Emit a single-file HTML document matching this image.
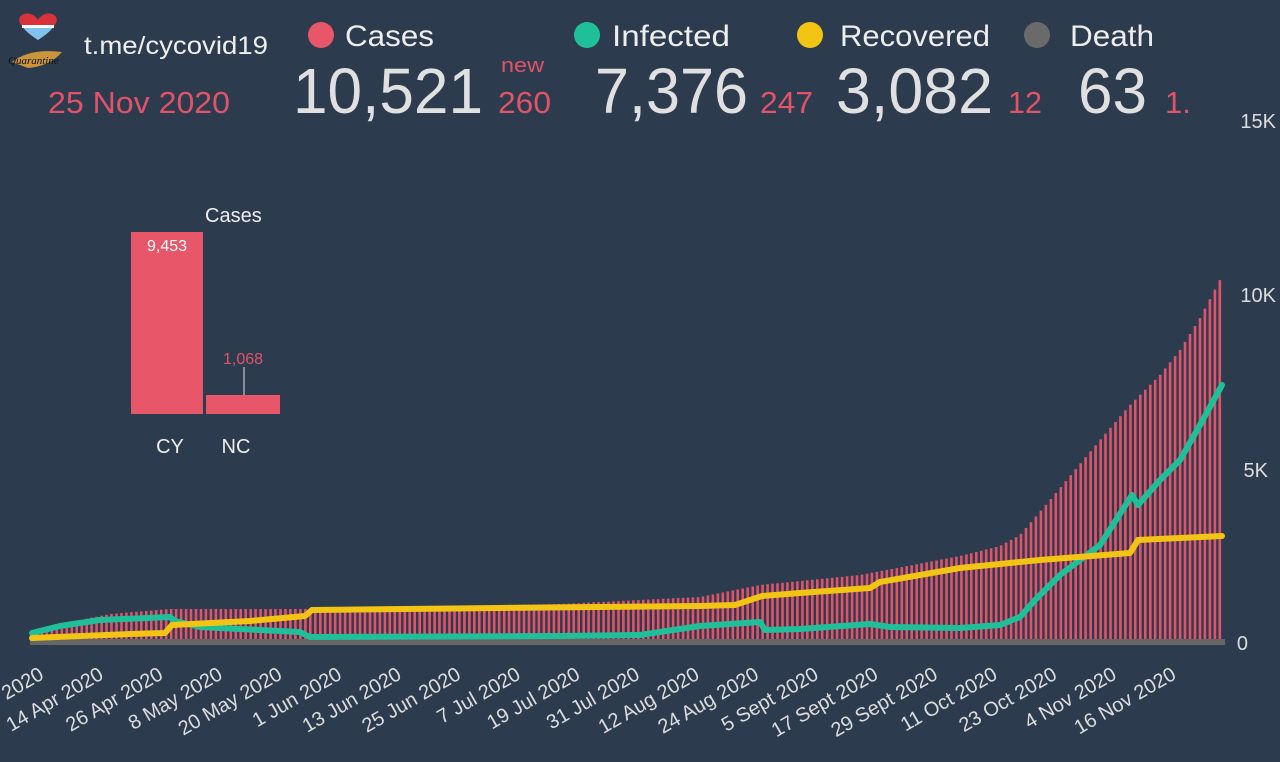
<!DOCTYPE html>
<html><head><meta charset="utf-8"><style>
html,body{margin:0;padding:0;background:#2d3b4e;}
svg{display:block;font-family:"Liberation Sans",sans-serif;}
</style></head><body>
<svg id="s" width="1280" height="762" xmlns="http://www.w3.org/2000/svg">
<rect width="1280" height="762" fill="#2d3b4e"/>
<!-- logo -->
<path d="M38 40 C20 28 14 18 24 14 C30 12 36 16 38 20 C40 16 46 12 52 14 C62 18 56 28 38 40Z" fill="#d8323c"/>
<path d="M22 26 L54 26 C50 32 44 36 38 40 C32 36 26 32 22 26Z" fill="#7fc3ee"/>
<rect x="22" y="25" width="32" height="3" fill="#fff"/>
<path d="M12 62 Q30 48 62 52 Q50 66 28 68Z" fill="#e8a63a" opacity="0.85"/>
<text x="8" y="64" font-size="11" font-style="italic" fill="#111" font-family="Liberation Serif,serif">Quarantine</text>
<text x="84" y="54" font-size="25" fill="#eeeeee" textLength="184" lengthAdjust="spacingAndGlyphs">t.me/cycovid19</text>
<text x="48" y="113" font-size="31" fill="#e05368" textLength="182" lengthAdjust="spacingAndGlyphs">25 Nov 2020</text>
<!-- legend -->
<circle cx="321" cy="35" r="13" fill="#e8566a"/>
<text x="345" y="46" font-size="30" fill="#eeeeee" textLength="89" lengthAdjust="spacingAndGlyphs">Cases</text>
<circle cx="587" cy="35" r="13" fill="#1fbf9a"/>
<text x="612" y="46" font-size="30" fill="#eeeeee" textLength="118" lengthAdjust="spacingAndGlyphs">Infected</text>
<circle cx="810" cy="35" r="13" fill="#f2c414"/>
<text x="840" y="46" font-size="30" fill="#eeeeee" textLength="150" lengthAdjust="spacingAndGlyphs">Recovered</text>
<circle cx="1037" cy="35" r="13" fill="#6a6a6a"/>
<text x="1070" y="46" font-size="30" fill="#eeeeee" textLength="84" lengthAdjust="spacingAndGlyphs">Death</text>
<!-- big numbers -->
<g font-size="64" fill="#e0e0e0">
<text x="293" y="113" textLength="190" lengthAdjust="spacingAndGlyphs">10,521</text>
<text x="595" y="113" textLength="153" lengthAdjust="spacingAndGlyphs">7,376</text>
<text x="836" y="113" textLength="157" lengthAdjust="spacingAndGlyphs">3,082</text>
<text x="1078" y="113" textLength="69" lengthAdjust="spacingAndGlyphs">63</text>
</g>
<g fill="#e05368">
<text x="501" y="72" font-size="20" textLength="43" lengthAdjust="spacingAndGlyphs">new</text>
<text x="498" y="113" font-size="31" textLength="53" lengthAdjust="spacingAndGlyphs">260</text>
<text x="760" y="113" font-size="31" textLength="53" lengthAdjust="spacingAndGlyphs">247</text>
<text x="1008" y="113" font-size="31" textLength="34" lengthAdjust="spacingAndGlyphs">12</text>
<text x="1165" y="113" font-size="31">1.</text>
</g>
<!-- y labels -->
<g font-size="20" fill="#dddddd" text-anchor="end">
<text x="1276" y="128">15K</text>
<text x="1276" y="302">10K</text>
<text x="1268" y="477">5K</text>
<text x="1248" y="650">0</text>
</g>
<!-- inset -->
<text x="205" y="222" font-size="20" fill="#eeeeee">Cases</text>
<rect x="131" y="232" width="72" height="182" fill="#e8566a"/>
<rect x="206" y="395" width="74" height="19" fill="#e8566a"/>
<text x="167" y="251" font-size="16" fill="#ffffff" text-anchor="middle">9,453</text>
<text x="243" y="364" font-size="16" fill="#e05368" text-anchor="middle">1,068</text>
<line x1="244" y1="367" x2="244" y2="395" stroke="#aaaaaa" stroke-width="1.5"/>
<text x="170" y="453" font-size="20" fill="#eeeeee" text-anchor="middle">CY</text>
<text x="236" y="453" font-size="20" fill="#eeeeee" text-anchor="middle">NC</text>
<g id="bars"></g>
<rect x="30" y="639" width="1195" height="6" fill="#666666"/>
<g id="lines"></g>
<g id="xl" font-size="20" fill="#dddddd" text-anchor="end"></g>
</svg>
<script>
function interp(pts,x){for(let i=0;i<pts.length-1;i++){if(x>=pts[i][0]&&x<=pts[i+1][0]){const t=(x-pts[i][0])/(pts[i+1][0]-pts[i][0]);return pts[i][1]+t*(pts[i+1][1]-pts[i][1]);}}return pts[pts.length-1][1];}
const cases=[[32,630],[60,624],[110,614],[170,609],[300,609],[500,605],[560,604],[640,600],[700,597],[760,585],[860,575],[960,556],[1000,546],[1020,535],[1050,500],[1100,440],[1130,405],[1160,375],[1180,350],[1200,318],[1222,276]];
const inf=[[32,633],[60,626],[100,620],[170,617],[175,621],[200,627],[300,632],[310,637],[560,636],[640,635],[700,626],[760,622],[765,630],[800,629],[870,624],[890,627],[960,628],[1000,625],[1020,617],[1035,600],[1060,575],[1100,545],[1132,495],[1138,505],[1160,480],[1180,460],[1200,425],[1222,385]];
const rec=[[32,638],[130,634],[165,633],[172,625],[250,621],[305,616],[312,610],[500,608],[700,606],[735,605],[762,596],[800,593],[870,588],[880,582],[960,568],[1000,564],[1040,560],[1130,553],[1138,540],[1222,536]];
let b='';
for(let x=32;x<=1223;x+=4.97){const y=interp(cases,x);b+=`<rect x="${(x-1.3).toFixed(1)}" y="${y.toFixed(1)}" width="2.6" height="${(640-y).toFixed(1)}" fill="#e05368"/>`;}
document.getElementById('bars').innerHTML=b;
function pl(p,c){return `<polyline points="${p.map(q=>q.join(',')).join(' ')}" fill="none" stroke="${c}" stroke-width="6" stroke-linejoin="round" stroke-linecap="round"/>`;}
document.getElementById('lines').innerHTML=pl(inf,'#1fbf9a')+pl(rec,'#f2c414');
const labs=['2 Apr 2020','14 Apr 2020','26 Apr 2020','8 May 2020','20 May 2020','1 Jun 2020','13 Jun 2020','25 Jun 2020','7 Jul 2020','19 Jul 2020','31 Jul 2020','12 Aug 2020','24 Aug 2020','5 Sept 2020','17 Sept 2020','29 Sept 2020','11 Oct 2020','23 Oct 2020','4 Nov 2020','16 Nov 2020'];
let t='';labs.forEach((l,i)=>{const ex=345+(i-5)*59.6-2,ey=678;t+=`<text transform="translate(${ex.toFixed(1)},${ey}) rotate(-30)">${l}</text>`;});
document.getElementById('xl').innerHTML=t;
</script>
</body></html>
